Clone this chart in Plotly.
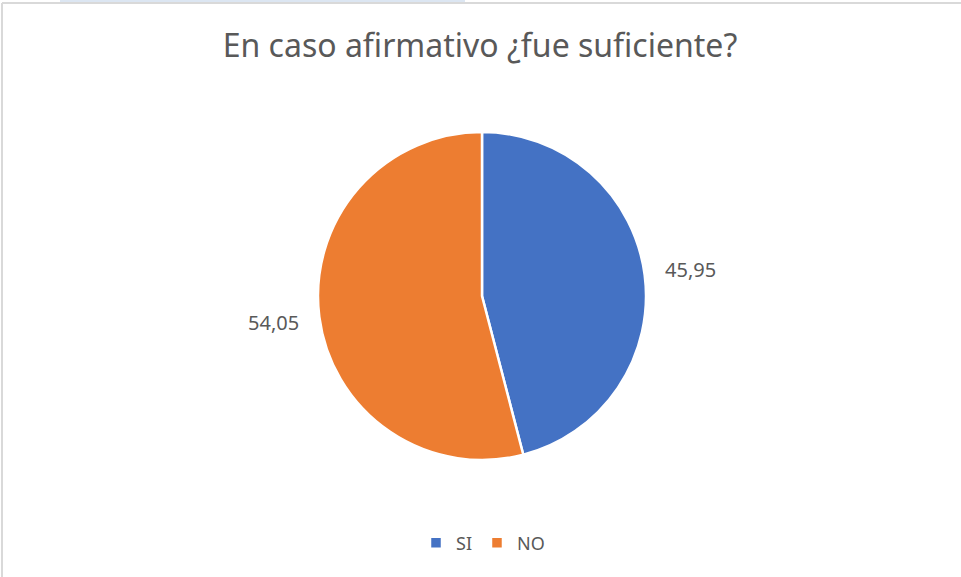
import math
import plotly.graph_objects as go

TITLE: str = 'En caso afirmativo ¿fue suficiente?'
LABELS: list = ['SI', 'NO']
VALUES: list = [45.95, 54.05]
COLORS: list = ['#4472c4', '#ed7d31']
TEXT_COLOR: str = '#595959'
BORDER_COLOR: str = '#d9d9d9'
FONT: str = 'Noto Sans, Open Sans, sans-serif'

W, H = 961, 577
CX, CY, R = 482, 296, 164
LABEL_DIST = 210  # distance of data labels from the pie centre, px


def label_annotations(values: list) -> list:
    # Excel-style data labels: placed at the mid-angle of each slice, outside the pie
    total = sum(values)
    annotations = []
    start = 0.0
    for v in values:
        mid = (start + v / 2) / total * 2 * math.pi
        start += v
        annotations.append({
            'xref': 'paper', 'yref': 'paper',
            'x': (CX + LABEL_DIST * math.sin(mid)) / W,
            'y': 1 - (CY - LABEL_DIST * math.cos(mid)) / H,
            'xanchor': 'center', 'yanchor': 'middle',
            'text': f'{v:.2f}'.replace('.', ','),
            'showarrow': False,
            'font': {'size': 20, 'color': TEXT_COLOR, 'family': FONT},
        })
    return annotations


fig = go.Figure(data=[
    go.Pie(
        labels=LABELS,
        values=VALUES,
        sort=False,
        direction='clockwise',
        rotation=0,
        marker={'colors': COLORS, 'line': {'color': 'white', 'width': 2.5}},
        textinfo='none',
        hoverinfo='label+value',
        domain={
            'x': [(CX - R) / W, (CX + R) / W],
            'y': [1 - (CY + R) / H, 1 - (CY - R) / H],
        },
    )
])

fig.update_layout(
    width=W,
    height=H,
    margin={'l': 0, 'r': 0, 't': 0, 'b': 0},
    paper_bgcolor='white',
    separators=',.',
    font={'family': FONT, 'color': TEXT_COLOR},
    title={
        'text': TITLE,
        'x': 480 / W,
        'xanchor': 'center',
        'y': 1 - 46 / H,
        'yanchor': 'middle',
        'font': {'size': 32, 'color': TEXT_COLOR, 'family': FONT},
    },
    legend={
        'orientation': 'h',
        'x': 483 / W,
        'xanchor': 'center',
        'y': 1 - 543 / H,
        'yanchor': 'middle',
        'font': {'size': 18, 'color': TEXT_COLOR, 'family': FONT},
    },
    annotations=label_annotations(VALUES),
    shapes=[
        # chart area border, left and top edges
        {'type': 'line', 'xref': 'paper', 'yref': 'paper',
         'x0': 2 / W, 'x1': 2 / W, 'y0': 0, 'y1': 1 - 3 / H,
         'line': {'color': BORDER_COLOR, 'width': 2}},
        {'type': 'line', 'xref': 'paper', 'yref': 'paper',
         'x0': 2 / W, 'x1': 1, 'y0': 1 - 3 / H, 'y1': 1 - 3 / H,
         'line': {'color': BORDER_COLOR, 'width': 2}},
        # selected spreadsheet cells peeking above the chart
        {'type': 'rect', 'xref': 'paper', 'yref': 'paper',
         'x0': 60 / W, 'x1': 465 / W, 'y0': 1 - 2 / H, 'y1': 1,
         'line': {'width': 0}, 'fillcolor': '#dce6f2'},
    ],
)

# drop the browser's default body margin so the figure sits at the page origin
fig.write_html(
    'out.html',
    config={'displayModeBar': False},
    post_script="document.body.style.margin = '0';",
)
